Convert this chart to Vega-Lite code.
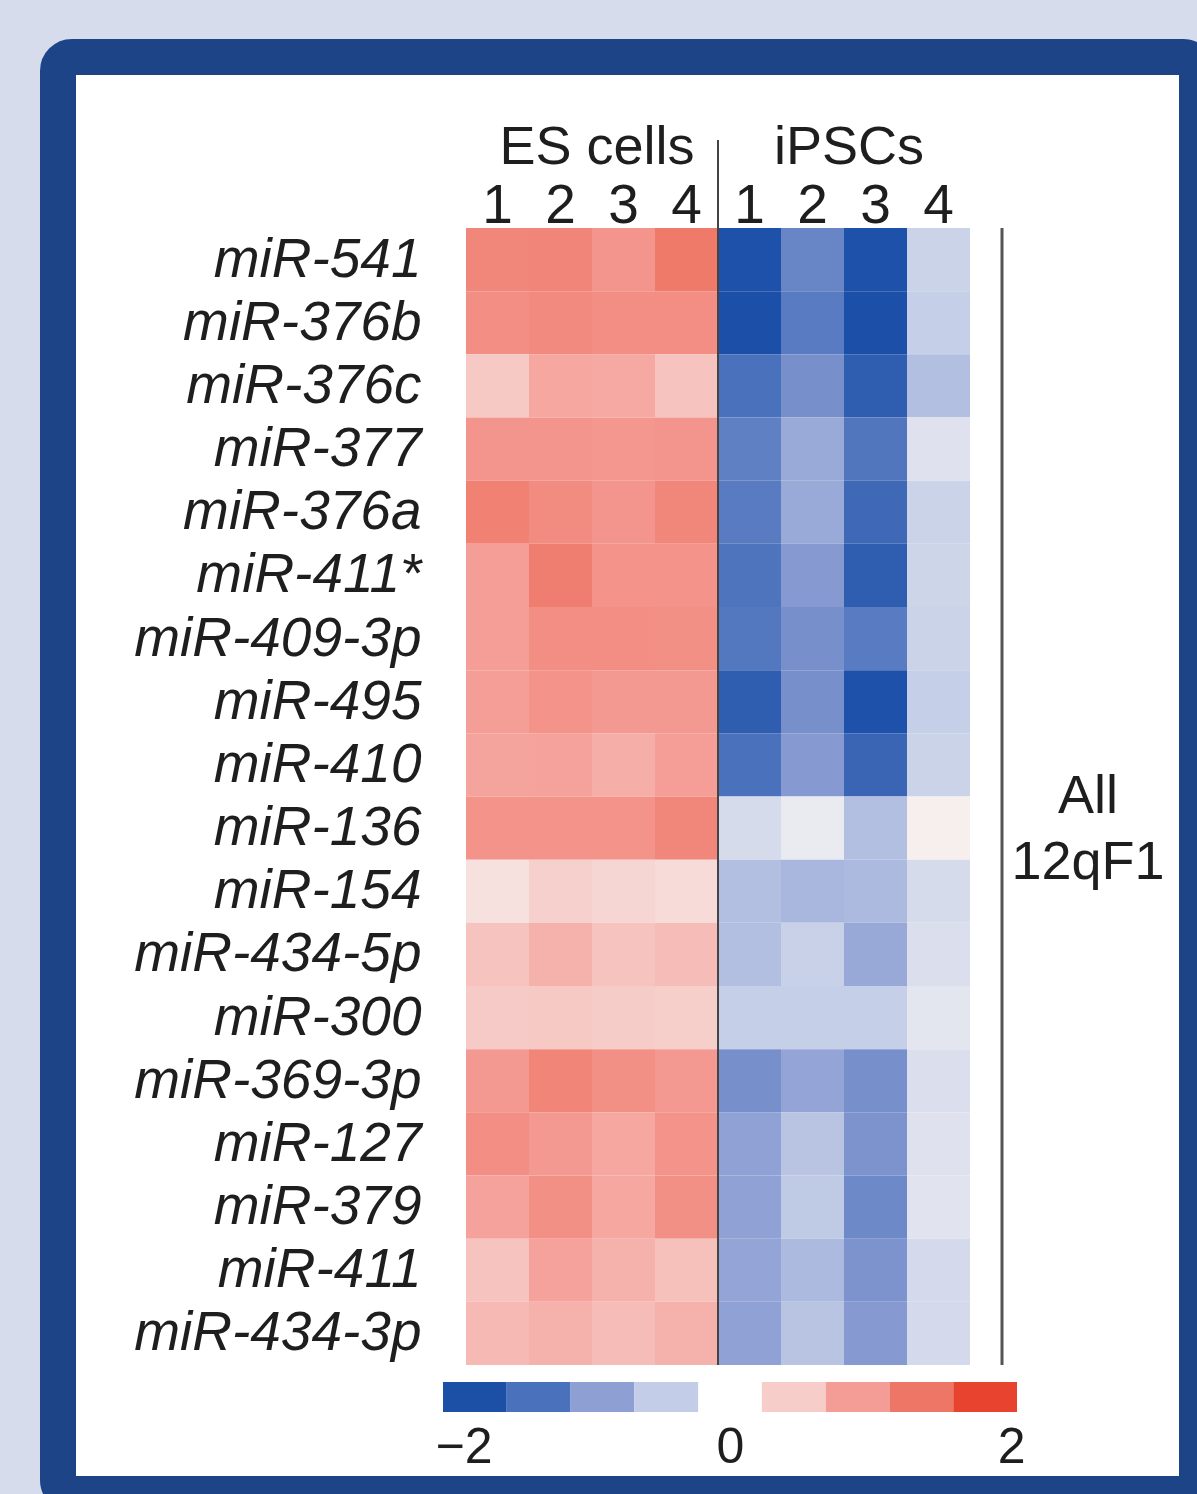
{
  "$schema": "https://vega.github.io/schema/vega-lite/v6.json",
  "autosize": {"type": "none"},
  "width": 1139,
  "height": 1437,
  "padding": {"left": 58, "top": 57, "right": 0, "bottom": 0},
  "background": "#d6dcec",
  "config": {
    "view": {"fill": "#ffffff", "stroke": "#1d4487", "strokeWidth": 36, "cornerRadius": 14},
    "font": "Liberation Sans"
  },
  "datasets": {
    "cluster": [{"cluster": "All\n12qF1", "first": "miR-541", "last": "miR-434-3p"}],
    "legend": [
      {"lo": -2, "hi": -1.556, "mid": -1.78},
      {"lo": -1.556, "hi": -1.111, "mid": -1.33},
      {"lo": -1.111, "hi": -0.667, "mid": -0.89},
      {"lo": -0.667, "hi": -0.222, "mid": -0.44},
      {"lo": 0.222, "hi": 0.667, "mid": 0.44},
      {"lo": 0.667, "hi": 1.111, "mid": 0.89},
      {"lo": 1.111, "hi": 1.556, "mid": 1.33},
      {"lo": 1.556, "hi": 2, "mid": 1.78}
    ]
  },
  "data": {"values": [
    {"mir": "miR-541", "group": "ES cells", "sample": "ES 1", "value": 1.15},
    {"mir": "miR-541", "group": "ES cells", "sample": "ES 2", "value": 1.17},
    {"mir": "miR-541", "group": "ES cells", "sample": "ES 3", "value": 1.0},
    {"mir": "miR-541", "group": "ES cells", "sample": "ES 4", "value": 1.3},
    {"mir": "miR-541", "group": "iPSCs", "sample": "iPSC 1", "value": -1.75},
    {"mir": "miR-541", "group": "iPSCs", "sample": "iPSC 2", "value": -1.15},
    {"mir": "miR-541", "group": "iPSCs", "sample": "iPSC 3", "value": -1.75},
    {"mir": "miR-541", "group": "iPSCs", "sample": "iPSC 4", "value": -0.4},
    {"mir": "miR-376b", "group": "ES cells", "sample": "ES 1", "value": 1.08},
    {"mir": "miR-376b", "group": "ES cells", "sample": "ES 2", "value": 1.12},
    {"mir": "miR-376b", "group": "ES cells", "sample": "ES 3", "value": 1.08},
    {"mir": "miR-376b", "group": "ES cells", "sample": "ES 4", "value": 1.08},
    {"mir": "miR-376b", "group": "iPSCs", "sample": "iPSC 1", "value": -1.8},
    {"mir": "miR-376b", "group": "iPSCs", "sample": "iPSC 2", "value": -1.25},
    {"mir": "miR-376b", "group": "iPSCs", "sample": "iPSC 3", "value": -1.78},
    {"mir": "miR-376b", "group": "iPSCs", "sample": "iPSC 4", "value": -0.45},
    {"mir": "miR-376c", "group": "ES cells", "sample": "ES 1", "value": 0.5},
    {"mir": "miR-376c", "group": "ES cells", "sample": "ES 2", "value": 0.82},
    {"mir": "miR-376c", "group": "ES cells", "sample": "ES 3", "value": 0.8},
    {"mir": "miR-376c", "group": "ES cells", "sample": "ES 4", "value": 0.55},
    {"mir": "miR-376c", "group": "iPSCs", "sample": "iPSC 1", "value": -1.35},
    {"mir": "miR-376c", "group": "iPSCs", "sample": "iPSC 2", "value": -1.05},
    {"mir": "miR-376c", "group": "iPSCs", "sample": "iPSC 3", "value": -1.6},
    {"mir": "miR-376c", "group": "iPSCs", "sample": "iPSC 4", "value": -0.6},
    {"mir": "miR-377", "group": "ES cells", "sample": "ES 1", "value": 1.0},
    {"mir": "miR-377", "group": "ES cells", "sample": "ES 2", "value": 1.0},
    {"mir": "miR-377", "group": "ES cells", "sample": "ES 3", "value": 0.98},
    {"mir": "miR-377", "group": "ES cells", "sample": "ES 4", "value": 1.0},
    {"mir": "miR-377", "group": "iPSCs", "sample": "iPSC 1", "value": -1.2},
    {"mir": "miR-377", "group": "iPSCs", "sample": "iPSC 2", "value": -0.8},
    {"mir": "miR-377", "group": "iPSCs", "sample": "iPSC 3", "value": -1.3},
    {"mir": "miR-377", "group": "iPSCs", "sample": "iPSC 4", "value": -0.22},
    {"mir": "miR-376a", "group": "ES cells", "sample": "ES 1", "value": 1.22},
    {"mir": "miR-376a", "group": "ES cells", "sample": "ES 2", "value": 1.1},
    {"mir": "miR-376a", "group": "ES cells", "sample": "ES 3", "value": 1.0},
    {"mir": "miR-376a", "group": "ES cells", "sample": "ES 4", "value": 1.15},
    {"mir": "miR-376a", "group": "iPSCs", "sample": "iPSC 1", "value": -1.25},
    {"mir": "miR-376a", "group": "iPSCs", "sample": "iPSC 2", "value": -0.8},
    {"mir": "miR-376a", "group": "iPSCs", "sample": "iPSC 3", "value": -1.45},
    {"mir": "miR-376a", "group": "iPSCs", "sample": "iPSC 4", "value": -0.4},
    {"mir": "miR-411*", "group": "ES cells", "sample": "ES 1", "value": 0.9},
    {"mir": "miR-411*", "group": "ES cells", "sample": "ES 2", "value": 1.25},
    {"mir": "miR-411*", "group": "ES cells", "sample": "ES 3", "value": 1.02},
    {"mir": "miR-411*", "group": "ES cells", "sample": "ES 4", "value": 1.02},
    {"mir": "miR-411*", "group": "iPSCs", "sample": "iPSC 1", "value": -1.32},
    {"mir": "miR-411*", "group": "iPSCs", "sample": "iPSC 2", "value": -0.95},
    {"mir": "miR-411*", "group": "iPSCs", "sample": "iPSC 3", "value": -1.6},
    {"mir": "miR-411*", "group": "iPSCs", "sample": "iPSC 4", "value": -0.38},
    {"mir": "miR-409-3p", "group": "ES cells", "sample": "ES 1", "value": 0.9},
    {"mir": "miR-409-3p", "group": "ES cells", "sample": "ES 2", "value": 1.08},
    {"mir": "miR-409-3p", "group": "ES cells", "sample": "ES 3", "value": 1.08},
    {"mir": "miR-409-3p", "group": "ES cells", "sample": "ES 4", "value": 1.05},
    {"mir": "miR-409-3p", "group": "iPSCs", "sample": "iPSC 1", "value": -1.28},
    {"mir": "miR-409-3p", "group": "iPSCs", "sample": "iPSC 2", "value": -1.05},
    {"mir": "miR-409-3p", "group": "iPSCs", "sample": "iPSC 3", "value": -1.25},
    {"mir": "miR-409-3p", "group": "iPSCs", "sample": "iPSC 4", "value": -0.4},
    {"mir": "miR-495", "group": "ES cells", "sample": "ES 1", "value": 0.9},
    {"mir": "miR-495", "group": "ES cells", "sample": "ES 2", "value": 1.02},
    {"mir": "miR-495", "group": "ES cells", "sample": "ES 3", "value": 0.95},
    {"mir": "miR-495", "group": "ES cells", "sample": "ES 4", "value": 0.95},
    {"mir": "miR-495", "group": "iPSCs", "sample": "iPSC 1", "value": -1.6},
    {"mir": "miR-495", "group": "iPSCs", "sample": "iPSC 2", "value": -1.05},
    {"mir": "miR-495", "group": "iPSCs", "sample": "iPSC 3", "value": -1.75},
    {"mir": "miR-495", "group": "iPSCs", "sample": "iPSC 4", "value": -0.45},
    {"mir": "miR-410", "group": "ES cells", "sample": "ES 1", "value": 0.85},
    {"mir": "miR-410", "group": "ES cells", "sample": "ES 2", "value": 0.86},
    {"mir": "miR-410", "group": "ES cells", "sample": "ES 3", "value": 0.75},
    {"mir": "miR-410", "group": "ES cells", "sample": "ES 4", "value": 0.9},
    {"mir": "miR-410", "group": "iPSCs", "sample": "iPSC 1", "value": -1.35},
    {"mir": "miR-410", "group": "iPSCs", "sample": "iPSC 2", "value": -0.95},
    {"mir": "miR-410", "group": "iPSCs", "sample": "iPSC 3", "value": -1.5},
    {"mir": "miR-410", "group": "iPSCs", "sample": "iPSC 4", "value": -0.4},
    {"mir": "miR-136", "group": "ES cells", "sample": "ES 1", "value": 1.02},
    {"mir": "miR-136", "group": "ES cells", "sample": "ES 2", "value": 1.02},
    {"mir": "miR-136", "group": "ES cells", "sample": "ES 3", "value": 1.02},
    {"mir": "miR-136", "group": "ES cells", "sample": "ES 4", "value": 1.15},
    {"mir": "miR-136", "group": "iPSCs", "sample": "iPSC 1", "value": -0.3},
    {"mir": "miR-136", "group": "iPSCs", "sample": "iPSC 2", "value": -0.12},
    {"mir": "miR-136", "group": "iPSCs", "sample": "iPSC 3", "value": -0.6},
    {"mir": "miR-136", "group": "iPSCs", "sample": "iPSC 4", "value": 0.06},
    {"mir": "miR-154", "group": "ES cells", "sample": "ES 1", "value": 0.22},
    {"mir": "miR-154", "group": "ES cells", "sample": "ES 2", "value": 0.42},
    {"mir": "miR-154", "group": "ES cells", "sample": "ES 3", "value": 0.35},
    {"mir": "miR-154", "group": "ES cells", "sample": "ES 4", "value": 0.3},
    {"mir": "miR-154", "group": "iPSCs", "sample": "iPSC 1", "value": -0.6},
    {"mir": "miR-154", "group": "iPSCs", "sample": "iPSC 2", "value": -0.68},
    {"mir": "miR-154", "group": "iPSCs", "sample": "iPSC 3", "value": -0.65},
    {"mir": "miR-154", "group": "iPSCs", "sample": "iPSC 4", "value": -0.3},
    {"mir": "miR-434-5p", "group": "ES cells", "sample": "ES 1", "value": 0.55},
    {"mir": "miR-434-5p", "group": "ES cells", "sample": "ES 2", "value": 0.72},
    {"mir": "miR-434-5p", "group": "ES cells", "sample": "ES 3", "value": 0.55},
    {"mir": "miR-434-5p", "group": "ES cells", "sample": "ES 4", "value": 0.62},
    {"mir": "miR-434-5p", "group": "iPSCs", "sample": "iPSC 1", "value": -0.6},
    {"mir": "miR-434-5p", "group": "iPSCs", "sample": "iPSC 2", "value": -0.42},
    {"mir": "miR-434-5p", "group": "iPSCs", "sample": "iPSC 3", "value": -0.82},
    {"mir": "miR-434-5p", "group": "iPSCs", "sample": "iPSC 4", "value": -0.25},
    {"mir": "miR-300", "group": "ES cells", "sample": "ES 1", "value": 0.48},
    {"mir": "miR-300", "group": "ES cells", "sample": "ES 2", "value": 0.5},
    {"mir": "miR-300", "group": "ES cells", "sample": "ES 3", "value": 0.47},
    {"mir": "miR-300", "group": "ES cells", "sample": "ES 4", "value": 0.45},
    {"mir": "miR-300", "group": "iPSCs", "sample": "iPSC 1", "value": -0.45},
    {"mir": "miR-300", "group": "iPSCs", "sample": "iPSC 2", "value": -0.45},
    {"mir": "miR-300", "group": "iPSCs", "sample": "iPSC 3", "value": -0.45},
    {"mir": "miR-300", "group": "iPSCs", "sample": "iPSC 4", "value": -0.18},
    {"mir": "miR-369-3p", "group": "ES cells", "sample": "ES 1", "value": 0.95},
    {"mir": "miR-369-3p", "group": "ES cells", "sample": "ES 2", "value": 1.18},
    {"mir": "miR-369-3p", "group": "ES cells", "sample": "ES 3", "value": 1.05},
    {"mir": "miR-369-3p", "group": "ES cells", "sample": "ES 4", "value": 0.95},
    {"mir": "miR-369-3p", "group": "iPSCs", "sample": "iPSC 1", "value": -1.05},
    {"mir": "miR-369-3p", "group": "iPSCs", "sample": "iPSC 2", "value": -0.85},
    {"mir": "miR-369-3p", "group": "iPSCs", "sample": "iPSC 3", "value": -1.05},
    {"mir": "miR-369-3p", "group": "iPSCs", "sample": "iPSC 4", "value": -0.25},
    {"mir": "miR-127", "group": "ES cells", "sample": "ES 1", "value": 1.08},
    {"mir": "miR-127", "group": "ES cells", "sample": "ES 2", "value": 0.95},
    {"mir": "miR-127", "group": "ES cells", "sample": "ES 3", "value": 0.82},
    {"mir": "miR-127", "group": "ES cells", "sample": "ES 4", "value": 1.02},
    {"mir": "miR-127", "group": "iPSCs", "sample": "iPSC 1", "value": -0.88},
    {"mir": "miR-127", "group": "iPSCs", "sample": "iPSC 2", "value": -0.55},
    {"mir": "miR-127", "group": "iPSCs", "sample": "iPSC 3", "value": -1.02},
    {"mir": "miR-127", "group": "iPSCs", "sample": "iPSC 4", "value": -0.22},
    {"mir": "miR-379", "group": "ES cells", "sample": "ES 1", "value": 0.86},
    {"mir": "miR-379", "group": "ES cells", "sample": "ES 2", "value": 1.05},
    {"mir": "miR-379", "group": "ES cells", "sample": "ES 3", "value": 0.82},
    {"mir": "miR-379", "group": "ES cells", "sample": "ES 4", "value": 1.05},
    {"mir": "miR-379", "group": "iPSCs", "sample": "iPSC 1", "value": -0.88},
    {"mir": "miR-379", "group": "iPSCs", "sample": "iPSC 2", "value": -0.5},
    {"mir": "miR-379", "group": "iPSCs", "sample": "iPSC 3", "value": -1.12},
    {"mir": "miR-379", "group": "iPSCs", "sample": "iPSC 4", "value": -0.2},
    {"mir": "miR-411", "group": "ES cells", "sample": "ES 1", "value": 0.55},
    {"mir": "miR-411", "group": "ES cells", "sample": "ES 2", "value": 0.86},
    {"mir": "miR-411", "group": "ES cells", "sample": "ES 3", "value": 0.72},
    {"mir": "miR-411", "group": "ES cells", "sample": "ES 4", "value": 0.58},
    {"mir": "miR-411", "group": "iPSCs", "sample": "iPSC 1", "value": -0.85},
    {"mir": "miR-411", "group": "iPSCs", "sample": "iPSC 2", "value": -0.65},
    {"mir": "miR-411", "group": "iPSCs", "sample": "iPSC 3", "value": -1.02},
    {"mir": "miR-411", "group": "iPSCs", "sample": "iPSC 4", "value": -0.32},
    {"mir": "miR-434-3p", "group": "ES cells", "sample": "ES 1", "value": 0.65},
    {"mir": "miR-434-3p", "group": "ES cells", "sample": "ES 2", "value": 0.72},
    {"mir": "miR-434-3p", "group": "ES cells", "sample": "ES 3", "value": 0.62},
    {"mir": "miR-434-3p", "group": "ES cells", "sample": "ES 4", "value": 0.72},
    {"mir": "miR-434-3p", "group": "iPSCs", "sample": "iPSC 1", "value": -0.88},
    {"mir": "miR-434-3p", "group": "iPSCs", "sample": "iPSC 2", "value": -0.55},
    {"mir": "miR-434-3p", "group": "iPSCs", "sample": "iPSC 3", "value": -0.95},
    {"mir": "miR-434-3p", "group": "iPSCs", "sample": "iPSC 4", "value": -0.32}
  ]},
  "layer": [
    {
      "layer": [
        {
          "mark": {"type": "rect", "strokeWidth": 0},
          "encoding": {
            "x": {
              "field": "sample", "type": "nominal", "title": null,
              "scale": {"domain": ["ES 1", "ES 2", "ES 3", "ES 4", "iPSC 1", "iPSC 2", "iPSC 3", "iPSC 4"], "range": [408, 912], "paddingInner": 0, "paddingOuter": 0},
              "axis": {"orient": "top", "offset": -171, "domain": false, "ticks": false, "grid": false, "labelPadding": 6, "labelBaseline": "alphabetic", "labelAngle": 0, "labelExpr": "slice(datum.label, -1)", "labelFont": "Liberation Sans", "labelFontSize": 55, "labelColor": "#1e1e1e", "title": null}
            },
            "y": {
              "field": "mir", "type": "nominal", "title": null,
              "scale": {"domain": ["miR-541", "miR-376b", "miR-376c", "miR-377", "miR-376a", "miR-411*", "miR-409-3p", "miR-495", "miR-410", "miR-136", "miR-154", "miR-434-5p", "miR-300", "miR-369-3p", "miR-127", "miR-379", "miR-411", "miR-434-3p"], "range": [171, 1308], "paddingInner": 0, "paddingOuter": 0},
              "axis": {"orient": "left", "offset": -363, "domain": false, "ticks": false, "grid": false, "labelPadding": 0, "labelFont": "Liberation Sans", "labelFontStyle": "italic", "labelFontSize": 55, "labelColor": "#1e1e1e", "labelLimit": 0, "title": null}
            },
            "color": {
              "field": "value", "type": "quantitative", "legend": null,
              "scale": {"domain": [-2, -1.78, -1.34, -0.9, -0.46, 0, 0.46, 0.9, 1.34, 1.78, 2], "range": ["#164aa3", "#1b4fa8", "#4b72bc", "#8e9fd4", "#c4cee7", "#f7f4f4", "#f6cdc9", "#f59e97", "#ee7666", "#e8422f", "#e63a26"], "interpolate": "rgb", "clamp": true, "zero": false, "nice": false}
            }
          }
        },
        {
          "transform": [{"filter": {"and": [{"field": "mir", "equal": "miR-541"}, {"field": "sample", "equal": "iPSC 1"}]}}],
          "mark": {"type": "rule", "color": "#444444", "strokeWidth": 2, "yOffset": -88},
          "encoding": {
            "x": {"field": "sample", "type": "nominal", "bandPosition": 0, "title": null},
            "y": {"datum": "miR-541", "type": "nominal", "bandPosition": 0, "title": null},
            "y2": {"datum": "miR-434-3p", "bandPosition": 1}
          }
        },
        {
          "transform": [{"filter": {"and": [{"field": "mir", "equal": "miR-541"}, {"field": "sample", "oneOf": ["ES 2", "iPSC 2"]}]}}],
          "mark": {"type": "text", "font": "Liberation Sans", "fontSize": 54, "color": "#1e1e1e", "align": "center", "baseline": "alphabetic", "yOffset": -64, "xOffset": 5},
          "encoding": {
            "x": {"field": "sample", "type": "nominal", "bandPosition": 1, "title": null},
            "y": {"field": "mir", "type": "nominal", "bandPosition": 0, "title": null},
            "text": {"field": "group", "type": "nominal"}
          }
        },
        {
          "data": {"name": "cluster"},
          "mark": {"type": "rule", "color": "#555555", "strokeWidth": 3, "xOffset": 32},
          "encoding": {
            "x": {"datum": "iPSC 4", "type": "nominal", "bandPosition": 1, "title": null},
            "y": {"field": "first", "type": "nominal", "bandPosition": 0, "title": null},
            "y2": {"datum": "miR-434-3p", "bandPosition": 1}
          }
        },
        {
          "data": {"name": "cluster"},
          "mark": {"type": "text", "font": "Liberation Sans", "fontSize": 54, "color": "#1e1e1e", "align": "center", "baseline": "middle", "lineBreak": "\n", "lineHeight": 66, "xOffset": 118, "yOffset": -31},
          "encoding": {
            "x": {"datum": "iPSC 4", "type": "nominal", "bandPosition": 1, "title": null},
            "y": {"datum": "miR-136", "type": "nominal", "bandPosition": 0.5, "title": null},
            "text": {"field": "cluster", "type": "nominal"}
          }
        }
      ]
    },
    {
      "data": {"name": "legend"},
      "mark": {"type": "rect", "yOffset": 17, "y2Offset": 47, "strokeWidth": 0},
      "encoding": {
        "x": {
          "field": "lo", "type": "quantitative", "title": null,
          "scale": {"domain": [-2, 2], "range": [385, 959], "nice": false, "zero": false},
          "axis": {"orient": "bottom", "offset": -40, "values": [-2, 0, 2], "format": "d", "domain": false, "ticks": false, "grid": false, "labelFlush": true, "labelFlushOffset": 8, "labelPadding": 8, "labelBaseline": "alphabetic", "labelFont": "Liberation Sans", "labelFontSize": 50, "labelColor": "#1e1e1e", "title": null}
        },
        "x2": {"field": "hi"},
        "y": {"datum": "miR-434-3p", "type": "nominal", "bandPosition": 1, "title": null},
        "y2": {"datum": "miR-434-3p", "bandPosition": 1},
        "fill": {
          "field": "mid", "type": "quantitative", "legend": null,
          "scale": {"type": "quantize", "domain": [-2, 2], "nice": false, "zero": false, "range": ["#1c4fa6", "#4a72bc", "#8d9fd3", "#c3cde7", "#ffffff", "#f6cdc9", "#f49d96", "#ee7666", "#e8432f"]}
        }
      }
    }
  ],
  "resolve": {"scale": {"x": "independent"}, "axis": {"x": "independent"}}
}
